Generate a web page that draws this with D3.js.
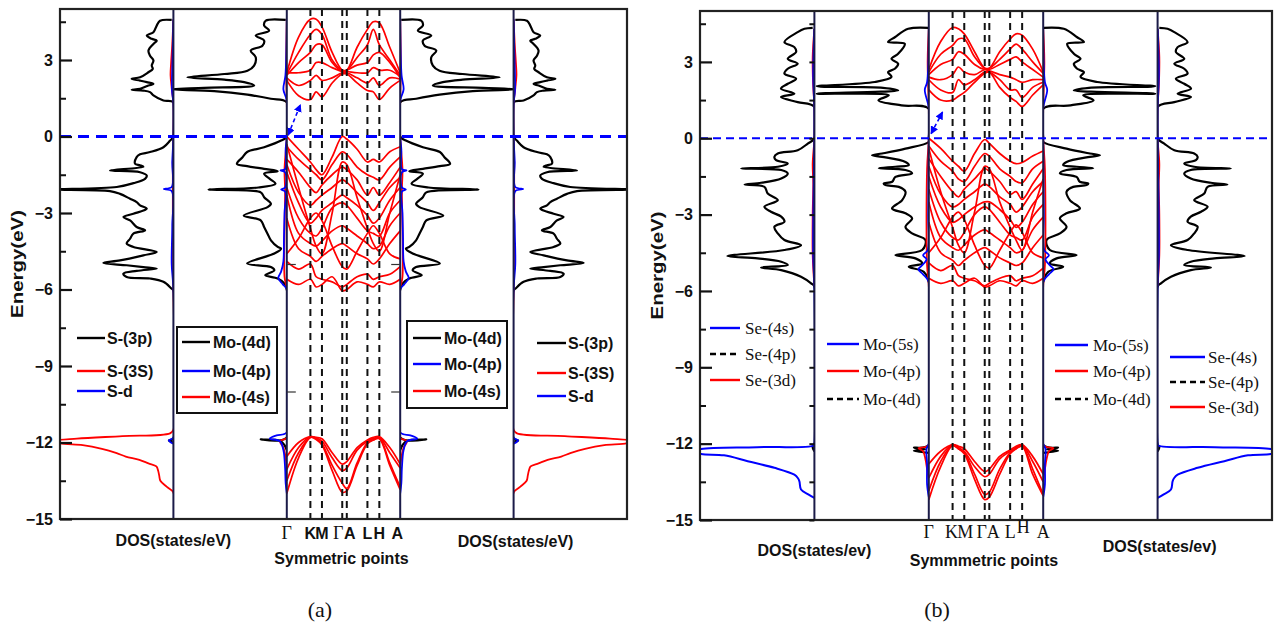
<!DOCTYPE html>
<html lang="en">
<head>
<meta charset="UTF-8">
<script src="https://cdnjs.cloudflare.com/ajax/libs/d3/7.8.5/d3.min.js"></script>
<title>MoS2 / MoSe2 bands and DOS</title>
<style>
  body { margin: 0; background: #fff; }
</style>
</head>
<body>
<svg id="chart" width="1287" height="630"></svg>
<script>
// ---- shared axis values ----
const energyTicks = [3, 0, -3, -6, -9, -12, -15];
const energyMinor = [4.5, 1.5, -1.5, -4.5, -7.5, -10.5, -13.5];
const kSym = [0, 0.208, 0.31, 0.489, 0.529, 0.711, 0.816, 1];
const kLabels = ["Γ", "K", "M", "Γ", "A", "L", "H", "A"];
const kGrid = [0, 0.104, 0.208, 0.259, 0.31, 0.40, 0.489, 0.529, 0.62, 0.711, 0.763, 0.816, 0.908, 1];

// ---- (a) DOS, [energy, states/eV] ----
const s3pA = [[4.57,0.15],[4.54,1.18],[4.35,1.47],[4.09,1.76],[3.96,2.35],[3.83,1.91],[3.76,1.47],[3.63,1.76],[3.37,2.2],[3.17,2.06],[2.98,1.76],[2.78,1.91],[2.65,1.82],[2.52,2.2],[2.32,2.94],[2.26,3.68],[2.19,2.94],[2.13,2.35],[2.06,1.76],[2.0,2.2],[1.87,2.94],[1.83,3.68],[1.8,2.65],[1.74,2.06],[1.61,1.76],[1.41,0.88],[1.34,0],
  [0,0],[-0.16,0.29],[-0.42,0.88],[-0.61,2.06],[-0.7,2.94],[-0.81,3.24],[-1.07,3.38],[-1.13,2.94],[-1.19,2.65],[-1.33,5.59],[-1.4,2.94],[-1.53,2.35],[-1.66,2.5],[-1.83,3.53],[-1.98,5.0],[-2.08,10.5],[-2.14,5.59],[-2.25,4.71],[-2.44,3.82],[-2.57,3.24],[-2.7,2.94],[-2.83,2.35],[-3.03,3.53],[-3.16,4.41],[-3.29,3.82],[-3.55,3.24],[-3.68,2.5],[-3.81,3.53],[-4.01,3.82],[-4.2,4.12],[-4.33,3.53],[-4.53,1.47],[-4.66,2.65],[-4.86,4.71],[-4.96,6.18],[-5.05,4.12],[-5.12,2.65],[-5.18,1.47],[-5.27,3.24],[-5.38,4.41],[-5.51,4.12],[-5.57,2.06],[-5.7,0.88],[-5.97,0.15],[-6.03,0],
  [-11.85,0],[-11.92,0.4],[-12.0,0]];
const s3sA = [[4.6,0],[3.6,0.1],[2.9,0.2],[2.4,0.25],[1.9,0.15],[1.3,0],[0,0],[-1,0.05],[-3,0.05],[-6,0],[-11.5,0],[-11.64,0.3],[-11.75,4.5],[-11.85,8.5],[-11.93,10.2],[-12.02,10.0],[-12.1,8.0],[-12.25,6.3],[-12.42,5.0],[-12.55,4.2],[-12.68,3.0],[-12.82,2.2],[-12.94,1.5],[-13.1,1.35],[-13.3,1.25],[-13.5,1.15],[-13.73,0.6],[-13.92,0.05],[-14.0,0]];
const sdA = [[4.6,0],[3.0,0.08],[1.8,0.12],[1.3,0],[0,0],[-1.0,0.1],[-1.98,0.15],[-2.06,0.85],[-2.14,0.15],[-3.5,0.1],[-5.0,0.15],[-6.0,0],[-11.8,0],[-11.92,0.4],[-12.05,0]];
const mo4dA = [[4.57,0.09],[4.54,1.85],[4.35,2.0],[4.15,1.56],[3.96,2.74],[3.76,2.0],[3.56,2.15],[3.37,3.18],[3.11,2.74],[2.78,2.88],[2.58,3.47],[2.45,5.5],[2.32,8.76],[2.23,5.5],[2.13,3.76],[2.0,2.88],[1.91,7.3],[1.85,10.2],[1.78,6.4],[1.64,3.47],[1.48,1.41],[1.34,0],
  [0,0],[-0.16,0.5],[-0.42,2.0],[-0.61,3.5],[-0.81,3.9],[-1.07,4.4],[-1.16,3.5],[-1.27,2.0],[-1.36,0.8],[-1.46,2.0],[-1.66,1.5],[-1.85,1.0],[-2.0,2.5],[-2.08,6.9],[-2.19,2.3],[-2.38,2.0],[-2.64,1.4],[-2.77,1.7],[-3.1,3.8],[-3.29,2.3],[-3.55,2.0],[-3.81,1.7],[-4.07,1.4],[-4.33,0.8],[-4.4,0.5],[-4.59,1.1],[-4.98,3.5],[-5.12,1.4],[-5.25,1.1],[-5.44,1.9],[-5.57,0.8],[-5.77,0.2],[-6.0,0],
  [-11.8,0],[-11.88,2.3],[-11.93,0.6],[-12.1,0.2],[-12.3,0]];
const mo4pA = [[4.6,0],[2.4,0.12],[1.85,0.3],[1.4,0],[0,0],[-0.5,0.1],[-1.28,0.15],[-1.33,0.55],[-1.4,0.15],[-2.0,0.15],[-2.08,0.5],[-2.16,0.15],[-3.0,0.2],[-4.0,0.25],[-4.9,0.3],[-5.3,0.5],[-5.55,0.75],[-5.8,0.35],[-6.0,0],[-11.6,0],[-11.72,0.9],[-11.85,1.5],[-11.95,0.6],[-12.3,0.3],[-13.0,0.15],[-13.6,0.1],[-14,0]];
const mo4sA = [[4.6,0],[2.5,0.05],[1.4,0],[0,0],[-1.3,0.2],[-2.1,0.15],[-5.5,0.2],[-6,0],[-11.8,0],[-11.95,0.6],[-12.2,0.3],[-12.6,0.1],[-13,0]];

// ---- (a) bands, energy at each kGrid point ----
const condA = [
  [2.5, 3.9, 4.6, 4.6, 4.3, 3.3, 2.6, 2.6, 3.5, 4.2, 4.5, 4.45, 3.5, 2.5],
  [2.45, 3.3, 4.0, 4.2, 4.0, 3.0, 2.6, 2.6, 3.1, 3.6, 4.2, 3.6, 3.0, 2.4],
  [2.4, 2.9, 3.3, 3.6, 3.6, 2.9, 2.55, 2.6, 2.8, 2.9, 3.2, 3.3, 2.9, 2.3],
  [2.5, 2.5, 2.6, 2.9, 2.9, 2.7, 2.55, 2.55, 2.5, 2.5, 2.7, 2.6, 2.6, 2.35],
  [2.3, 2.0, 2.2, 2.4, 2.2, 2.3, 2.5, 2.5, 2.3, 2.1, 2.3, 2.0, 2.3, 2.25],
  [2.2, 1.6, 1.45, 1.75, 1.55, 2.1, 2.45, 2.45, 2.1, 1.8, 1.75, 1.45, 1.9, 2.2]
];
const valA = [
  [0.0, -0.5, -1.0, -1.3, -1.5, -0.8, 0.0, -0.1, -0.5, -1.0, -0.9, -1.0, -0.6, -0.4],
  [-0.4, -0.9, -1.3, -1.5, -1.7, -1.1, -0.6, -0.7, -1.2, -1.5, -1.6, -1.7, -1.2, -0.8],
  [-0.9, -1.4, -2.0, -2.2, -1.9, -1.5, -1.2, -1.3, -1.7, -2.3, -2.0, -2.3, -1.8, -1.2],
  [-0.3, -2.0, -3.6, -4.3, -4.6, -3.0, -1.0, -1.1, -2.4, -3.6, -4.2, -4.5, -3.0, -1.5],
  [-1.1, -2.2, -2.7, -2.5, -2.3, -2.0, -1.7, -1.8, -2.2, -2.6, -2.9, -2.6, -2.0, -1.6],
  [-1.4, -2.6, -3.4, -3.2, -2.9, -2.6, -2.3, -2.4, -2.7, -3.1, -3.4, -3.2, -2.5, -2.0],
  [-2.0, -3.2, -3.8, -3.9, -3.6, -2.8, -2.6, -2.7, -3.2, -3.7, -3.8, -3.9, -3.0, -2.5],
  [-2.3, -3.8, -4.2, -4.3, -4.1, -3.7, -3.5, -3.6, -3.9, -4.2, -4.4, -4.3, -3.5, -3.0],
  [-3.2, -4.4, -4.7, -4.9, -4.7, -4.4, -4.2, -4.3, -4.6, -4.8, -5.0, -4.8, -4.2, -3.7],
  [-4.6, -4.0, -3.2, -3.0, -3.3, -4.3, -5.1, -5.2, -4.5, -3.8, -3.5, -3.8, -4.6, -4.8],
  [-4.9, -5.2, -5.0, -5.5, -5.6, -5.7, -5.9, -5.8, -5.5, -5.4, -5.6, -5.5, -5.4, -5.1],
  [-5.6, -5.8, -5.6, -5.9, -5.8, -5.5, -6.05, -6.0, -5.7, -5.8, -5.9, -5.7, -5.8, -5.6]
];
const lowA = [
  [-12.55, -12.0, -11.77, -11.8, -11.85, -12.4, -12.85, -12.75, -12.2, -11.9, -11.8, -11.77, -12.2, -12.85],
  [-13.05, -12.2, -11.77, -11.82, -11.95, -12.6, -13.1, -13.0, -12.3, -11.95, -11.85, -11.8, -12.4, -13.0],
  [-13.5, -12.4, -11.8, -11.85, -12.05, -12.9, -13.6, -13.8, -12.8, -12.0, -11.9, -11.82, -12.8, -13.75],
  [-14.0, -12.6, -11.8, -11.88, -12.1, -13.1, -13.95, -13.9, -12.9, -12.05, -11.9, -11.85, -12.9, -13.85]
];
const gapArrowA = [[0.011, 0.05], [0.12, 1.25]];

// ---- (b) DOS ----
const se4pB = [[4.34,0.15],[4.3,0.87],[4.17,1.46],[3.78,2.62],[3.58,1.75],[3.39,1.6],[3.12,2.33],[2.93,1.46],[2.73,2.33],[2.54,2.62],[2.34,1.6],[2.14,2.33],[1.95,2.92],[1.75,1.75],[1.62,2.92],[1.42,1.46],[1.23,0],
  [0,0],[-0.21,0.58],[-0.47,1.46],[-0.6,3.2],[-0.73,3.5],[-0.86,3.35],[-0.99,2.33],[-1.12,3.2],[-1.19,6.4],[-1.25,2.9],[-1.39,2.33],[-1.58,2.9],[-1.75,4.66],[-1.82,6.1],[-1.91,4.37],[-2.17,4.08],[-2.43,3.2],[-2.69,4.37],[-2.89,3.8],[-3.08,2.9],[-3.28,2.62],[-3.48,3.5],[-3.74,3.2],[-4.0,2.62],[-4.2,1.17],[-4.39,2.62],[-4.63,7.6],[-4.72,4.96],[-4.85,2.9],[-4.98,2.33],[-5.08,4.66],[-5.18,2.9],[-5.44,1.17],[-5.7,0.29],[-5.83,0],
  [-12.05,0],[-12.15,0.15],[-12.3,0]];
const se4sB = [[4.3,0],[2.5,0.1],[1.2,0],[0,0],[-1.5,0.05],[-4.6,0.1],[-5.8,0],[-12.0,0],[-12.07,0.05],[-12.14,5.0],[-12.21,9.9],[-12.3,10.6],[-12.41,9.9],[-12.46,7.9],[-12.69,5.83],[-12.95,3.5],[-13.22,1.75],[-13.35,1.45],[-13.48,1.31],[-13.8,1.17],[-14.0,0.5],[-14.13,0]];
const se3dB = [[4.3,0],[3.2,0.15],[2.2,0.12],[1.2,0],[0,0],[-1.0,0.15],[-1.8,0.1],[-3.0,0.15],[-4.6,0.15],[-5.8,0]];
const mo4dB = [[4.34,0.06],[4.3,1.8],[3.97,2.97],[3.78,3.56],[3.71,2.1],[3.32,2.68],[3.12,3.26],[2.93,2.68],[2.73,2.97],[2.6,3.56],[2.41,3.26],[2.21,4.72],[2.04,9.8],[1.98,4.0],[1.88,2.68],[1.75,9.8],[1.69,3.5],[1.49,4.4],[1.29,2.39],[1.16,0],
  [0,0],[-0.14,0],[-0.41,2.04],[-0.6,4.08],[-0.67,4.96],[-0.73,4.08],[-0.93,2.04],[-1.06,1.75],[-1.12,2.92],[-1.18,4.37],[-1.25,2.04],[-1.38,1.46],[-1.52,2.92],[-1.71,3.2],[-1.78,3.94],[-1.84,3.79],[-1.91,2.62],[-2.1,2.04],[-2.43,2.33],[-2.76,3.21],[-2.95,2.04],[-3.15,1.46],[-3.48,2.04],[-3.74,1.46],[-4.0,0.29],[-4.39,0.58],[-4.59,2.92],[-4.72,1.17],[-4.92,0.58],[-5.05,1.75],[-5.25,0.44],[-5.64,0],
  [-12.05,0],[-12.16,1.3],[-12.22,0.3],[-12.28,1.3],[-12.36,0]];
const mo5sB = [[4.3,0],[2.2,0.15],[1.9,0.35],[1.2,0],[0,0],[-3,0.05],[-4.4,0.1],[-4.6,0.5],[-4.75,0.2],[-5.0,0.6],[-5.15,0.9],[-5.35,0.5],[-5.65,0],[-12.0,0],[-12.2,0.2],[-12.8,0.15],[-13.6,0.15],[-14.1,0]];
const mo4pB = [[4.3,0],[3,0.1],[1.2,0],[0,0],[-1.2,0.15],[-5,0.15],[-5.8,0],[-12.05,0],[-12.18,0.9],[-12.3,0.5],[-12.6,0.3],[-13.0,0.15],[-13.4,0]];

// ---- (b) bands ----
const condB = [
  [2.7, 3.8, 4.35, 4.3, 4.1, 3.4, 2.75, 2.75, 3.4, 3.9, 4.1, 4.05, 3.5, 2.6],
  [2.6, 3.3, 3.65, 3.9, 3.9, 3.2, 2.75, 2.75, 3.1, 3.5, 3.7, 3.5, 3.0, 2.55],
  [2.5, 2.9, 3.1, 3.4, 3.3, 2.9, 2.7, 2.7, 2.9, 3.1, 3.2, 3.0, 2.7, 2.4],
  [2.4, 2.3, 2.5, 2.8, 2.6, 2.5, 2.7, 2.65, 2.5, 2.4, 2.3, 2.2, 2.3, 2.3],
  [2.3, 1.9, 1.8, 2.3, 2.1, 2.3, 2.6, 2.6, 2.3, 1.9, 1.9, 1.6, 2.0, 2.2],
  [1.9, 1.5, 1.5, 1.65, 1.8, 2.2, 2.55, 2.6, 2.0, 1.6, 1.45, 1.25, 1.7, 2.1]
];
const valB = [
  [0.0, -0.4, -0.9, -1.1, -1.3, -0.6, -0.05, -0.2, -0.6, -0.9, -1.0, -0.95, -0.7, -0.5],
  [-0.3, -0.9, -1.3, -1.6, -1.7, -1.1, -0.6, -0.7, -1.2, -1.5, -1.7, -1.75, -1.2, -0.9],
  [-0.8, -1.5, -2.1, -2.3, -2.0, -1.6, -1.2, -1.3, -1.7, -2.2, -2.1, -2.4, -1.8, -1.2],
  [-0.4, -2.1, -3.5, -4.2, -4.5, -2.9, -1.1, -1.2, -2.5, -3.5, -4.0, -4.4, -2.9, -1.6],
  [-1.1, -2.2, -2.7, -2.6, -2.4, -2.1, -1.8, -1.9, -2.3, -2.6, -2.9, -2.7, -2.1, -1.7],
  [-1.5, -2.7, -3.3, -3.2, -3.0, -2.7, -2.5, -2.5, -2.8, -3.2, -3.5, -3.3, -2.6, -2.1],
  [-2.0, -3.3, -3.9, -4.0, -3.7, -3.0, -2.7, -2.8, -3.3, -3.8, -3.9, -4.0, -3.1, -2.6],
  [-2.5, -3.9, -4.3, -4.4, -4.2, -3.8, -3.6, -3.7, -4.0, -4.3, -4.5, -4.4, -3.6, -3.1],
  [-3.3, -4.5, -4.8, -5.0, -4.8, -4.5, -4.3, -4.4, -4.7, -4.9, -5.0, -4.9, -4.3, -3.8],
  [-4.5, -3.9, -3.1, -2.9, -3.2, -4.2, -5.0, -5.1, -4.4, -3.7, -3.4, -3.7, -4.5, -4.7],
  [-4.9, -5.2, -5.0, -5.4, -5.5, -5.6, -5.8, -5.7, -5.5, -5.4, -5.6, -5.5, -5.4, -5.1],
  [-5.5, -5.7, -5.6, -5.8, -5.7, -5.5, -5.85, -5.8, -5.6, -5.7, -5.8, -5.6, -5.7, -5.5]
];
const lowB = [
  [-12.8, -12.3, -12.04, -12.1, -12.2, -12.7, -13.1, -13.0, -12.5, -12.25, -12.1, -12.04, -12.5, -13.2],
  [-13.35, -12.5, -12.04, -12.15, -12.3, -12.9, -13.3, -13.2, -12.6, -12.3, -12.15, -12.06, -12.7, -13.5],
  [-13.85, -12.7, -12.06, -12.2, -12.35, -13.2, -14.0, -13.9, -13.0, -12.35, -12.2, -12.08, -13.0, -14.0],
  [-14.2, -12.9, -12.08, -12.2, -12.4, -13.4, -14.2, -14.1, -13.2, -12.4, -12.2, -12.1, -13.2, -14.05]
];
const gapArrowB = [[0.02, 0.18], [0.12, 1.03]];

const SANS = '"Liberation Sans", Arial, sans-serif';
const SERIF = '"Liberation Serif", "Times New Roman", serif';

const svg = d3.select("#chart");
const defs = svg.append("defs");
defs.append("marker").attr("id", "ah").attr("viewBox", "0 0 10 10")
  .attr("refX", 9).attr("refY", 5).attr("markerWidth", 5).attr("markerHeight", 5)
  .attr("orient", "auto-start-reverse")
  .append("path").attr("d", "M0,0L10,5L0,10z").attr("fill", "blue");

const dosLine = (xs, y) => d3.line().x(d => xs(d[1])).y(d => y(d[0])).curve(d3.curveCatmullRom.alpha(0.5));

function drawHalf(c) {
  const g = svg.append("g");
  const pw = (c.x1 - c.x0) / 5;
  const edges = d3.range(6).map(i => c.x0 + i * pw);
  const y = d3.scaleLinear().domain([-15, 5]).range([c.yBot, c.yTop]);

  edges.slice(0, 5).forEach((e, i) => {
    defs.append("clipPath").attr("id", c.id + "clip" + i)
      .append("rect").attr("x", e).attr("y", c.yTop).attr("width", pw).attr("height", c.yBot - c.yTop);
  });

  // DOS panels
  c.dos.forEach(set => {
    const left = edges[set.panel], right = edges[set.panel + 1];
    const xs = d3.scaleLinear().domain([0, 10]).range(set.mirror ? [right, left] : [left, right]);
    g.append("path").datum(set.data)
      .attr("clip-path", `url(#${c.id}clip${set.panel})`)
      .attr("d", dosLine(xs, y))
      .attr("fill", "none").attr("stroke", set.color).attr("stroke-width", set.w || 2.2)
      .attr("stroke-linejoin", "round");
  });

  // bands
  const kx = d3.scaleLinear().domain([0, 1]).range([edges[2], edges[3]]);
  const bl = d3.line().x((e, i) => kx(kGrid[i])).y(e => y(e)).curve(d3.curveCatmullRom.alpha(0.5));
  const bandG = g.append("g").attr("clip-path", `url(#${c.id}clip2)`);
  bandG.selectAll("path.band").data(c.bands).join("path").attr("class", "band")
    .attr("d", bl).attr("fill", "none").attr("stroke", "#ff0000").attr("stroke-width", 1.7);

  // high-symmetry dashed lines
  g.selectAll("line.ksym").data(kSym.slice(1, -1)).join("line").attr("class", "ksym")
    .attr("x1", kx).attr("x2", kx).attr("y1", c.yTop).attr("y2", c.yBot)
    .attr("stroke", "#111").attr("stroke-width", 2).attr("stroke-dasharray", "7,5");

  // gap arrow
  g.append("line")
    .attr("x1", kx(c.arrow[0][0])).attr("y1", y(c.arrow[0][1]))
    .attr("x2", kx(c.arrow[1][0])).attr("y2", y(c.arrow[1][1]))
    .attr("stroke", "blue").attr("stroke-width", 1.6).attr("stroke-dasharray", "4,3")
    .attr("marker-start", "url(#ah)").attr("marker-end", "url(#ah)");

  // dividers
  g.selectAll("line.div").data(edges.slice(1, 5)).join("line").attr("class", "div")
    .attr("x1", d => d).attr("x2", d => d).attr("y1", c.yTop).attr("y2", c.yBot)
    .attr("stroke", "#1b1b48").attr("stroke-width", 2);

  // Fermi level
  g.append("line").attr("x1", c.x0).attr("x2", c.x1).attr("y1", y(0)).attr("y2", y(0))
    .attr("stroke", "#0000ff").attr("stroke-width", c.fermiW).attr("stroke-dasharray", c.fermiDash);

  // frame
  g.append("rect").attr("x", c.x0).attr("y", c.yTop).attr("width", c.x1 - c.x0).attr("height", c.yBot - c.yTop)
    .attr("fill", "none").attr("stroke", "#222").attr("stroke-width", 2.2);

  // y axis
  const ax = g.append("g").attr("transform", `translate(${c.x0},0)`)
    .call(d3.axisLeft(y).tickValues(energyTicks).tickSize(-12).tickPadding(7).tickFormat(d3.format("d")));
  ax.select(".domain").remove();
  ax.selectAll("line").attr("stroke", "#111").attr("stroke-width", 2.2);
  ax.selectAll("text").style("font-size", "16px").style("font-weight", "bold").style("font-family", SANS).attr("fill", "#111");
  const mx = g.append("g").attr("transform", `translate(${c.x0},0)`)
    .call(d3.axisLeft(y).tickValues(energyMinor).tickSize(-6).tickFormat(""));
  mx.select(".domain").remove();
  mx.selectAll("line").attr("stroke", "#111").attr("stroke-width", 2);
  if (c.dividerTicks) {
    const dx = g.append("g").attr("transform", `translate(${edges[1]},0)`)
      .call(d3.axisLeft(y).tickValues(energyTicks.concat(energyMinor)).tickSize(5).tickFormat(""));
    dx.select(".domain").remove();
    dx.selectAll("line").attr("stroke", "#111").attr("stroke-width", 2);
  }
  if (c.bandTicks) {
    const bt1 = g.append("g").attr("transform", `translate(${edges[2]},0)`)
      .call(d3.axisLeft(y).tickValues(c.bandTicks).tickSize(-9).tickFormat(""));
    const bt2 = g.append("g").attr("transform", `translate(${edges[3]},0)`)
      .call(d3.axisRight(y).tickValues(c.bandTicks).tickSize(-9).tickFormat(""));
    [bt1, bt2].forEach(a => { a.select(".domain").remove(); a.selectAll("line").attr("stroke", "#333").attr("stroke-width", 1.2); });
  }

  // k labels
  const isSerif = d => d === "Γ" || c.kSerif;
  g.selectAll("text.klab").data(kLabels).join("text").attr("class", "klab")
    .attr("x", (d, i) => kx(kSym[i]) + c.kdx[i]).attr("y", (d, i) => c.kY + c.kdy[i])
    .attr("text-anchor", "middle")
    .style("font-family", d => isSerif(d) ? SERIF : SANS)
    .style("font-weight", d => isSerif(d) ? "normal" : "bold")
    .style("font-size", d => isSerif(d) ? "18px" : "16px")
    .attr("fill", "#111").text(d => d);

  // titles
  const bold = sel => sel.style("font-weight", "bold").style("font-size", "16px").style("font-family", SANS)
    .attr("fill", "#111").attr("text-anchor", "middle");
  g.append("text").attr("transform", `translate(${c.eLabX},${(c.yTop + c.yBot) / 2}) rotate(-90)`)
    .call(bold).style("font-size", "17px").attr("textLength", 108).attr("lengthAdjust", "spacingAndGlyphs")
    .text("Energy(eV)");
  g.append("text").attr("x", (edges[0] + edges[2]) / 2).attr("y", c.dosY1).call(bold).text(c.dosTitle);
  g.append("text").attr("x", (edges[3] + edges[5]) / 2 + 2).attr("y", c.dosY2).call(bold).text(c.dosTitle);
  g.append("text").attr("x", (edges[2] + edges[3]) / 2 - 2).attr("y", c.symY).call(bold).text(c.symTitle);
  g.append("text").attr("x", c.capX).attr("y", 617).attr("text-anchor", "middle")
    .style("font-family", SERIF).style("font-size", "22px").attr("fill", "#111").text(c.caption);

  // legends
  c.legends.forEach(L => {
    const lg = g.append("g");
    if (L.box) lg.append("rect").attr("x", L.box[0]).attr("y", L.box[1]).attr("width", L.box[2]).attr("height", L.box[3])
      .attr("fill", "#fff").attr("stroke", "#111").attr("stroke-width", 2);
    L.items.forEach((it, i) => {
      lg.append("line").attr("x1", L.lx[0]).attr("x2", L.lx[1]).attr("y1", L.ys[i]).attr("y2", L.ys[i])
        .attr("stroke", it.color).attr("stroke-width", 2.4).attr("stroke-dasharray", it.dash ? "6,4" : null);
      lg.append("text").attr("x", L.tx).attr("y", L.ys[i] + 5.5).text(it.label)
        .attr("fill", "#111")
        .style("font-size", c.legSerif ? "17px" : "16px")
        .style("font-weight", c.legSerif ? "normal" : "bold")
        .style("font-family", c.legSerif ? SERIF : SANS);
    });
  });
}

const legSA = [{label: "S-(3p)", color: "#000"}, {label: "S-(3S)", color: "red"}, {label: "S-d", color: "blue"}];
const legMoA = [{label: "Mo-(4d)", color: "#000"}, {label: "Mo-(4p)", color: "blue"}, {label: "Mo-(4s)", color: "red"}];
const legSeB = [{label: "Se-(4s)", color: "blue"}, {label: "Se-(4p)", color: "#000", dash: true}, {label: "Se-(3d)", color: "red"}];
const legMoB = [{label: "Mo-(5s)", color: "blue"}, {label: "Mo-(4p)", color: "red"}, {label: "Mo-(4d)", color: "#000", dash: true}];

drawHalf({
  id: "a", x0: 60, x1: 627, yTop: 9, yBot: 519,
  dos: [
    {panel: 0, mirror: true, data: s3pA, color: "#000"},
    {panel: 0, mirror: true, data: s3sA, color: "red", w: 1.8},
    {panel: 0, mirror: true, data: sdA, color: "blue", w: 1.8},
    {panel: 1, mirror: true, data: mo4dA, color: "#000"},
    {panel: 1, mirror: true, data: mo4sA, color: "red", w: 1.8},
    {panel: 1, mirror: true, data: mo4pA, color: "blue", w: 1.8},
    {panel: 3, mirror: false, data: mo4dA, color: "#000"},
    {panel: 3, mirror: false, data: mo4sA, color: "red", w: 1.8},
    {panel: 3, mirror: false, data: mo4pA, color: "blue", w: 1.8},
    {panel: 4, mirror: false, data: s3pA, color: "#000"},
    {panel: 4, mirror: false, data: s3sA, color: "red", w: 1.8},
    {panel: 4, mirror: false, data: sdA, color: "blue", w: 1.8}
  ],
  bands: condA.concat(valA, lowA), arrow: gapArrowA,
  fermiW: 3, fermiDash: "11,7", dividerTicks: false, bandTicks: [-5, -10],
  kY: 539, kdx: [0, 0, 0, -4, 3, 0, 0, -3], kdy: [0, 0, 0, 0, 0, 0, 0, 0], kSerif: false,
  eLabX: 23, dosTitle: "DOS(states/eV)", dosY1: 546, dosY2: 547, symTitle: "Symmetric points", symY: 564,
  capX: 320, caption: "(a)", legSerif: false,
  legends: [
    {items: legSA, lx: [77, 105], tx: 107, ys: [338, 371, 391]},
    {items: legMoA, box: [177, 327, 100, 86], lx: [182, 210], tx: 213, ys: [342, 371, 397]},
    {items: legMoA, box: [407, 321, 100, 87], lx: [413, 441], tx: 444, ys: [338, 364, 391]},
    {items: legSA, lx: [537, 566], tx: 568, ys: [343, 373, 396]}
  ]
});

drawHalf({
  id: "b", x0: 700, x1: 1272, yTop: 11, yBot: 520,
  dos: [
    {panel: 0, mirror: true, data: se4pB, color: "#000"},
    {panel: 0, mirror: true, data: se3dB, color: "red", w: 1.8},
    {panel: 0, mirror: true, data: se4sB, color: "blue", w: 2},
    {panel: 1, mirror: true, data: mo4dB, color: "#000"},
    {panel: 1, mirror: true, data: mo4pB, color: "red", w: 1.8},
    {panel: 1, mirror: true, data: mo5sB, color: "blue", w: 1.8},
    {panel: 3, mirror: false, data: mo4dB, color: "#000"},
    {panel: 3, mirror: false, data: mo4pB, color: "red", w: 1.8},
    {panel: 3, mirror: false, data: mo5sB, color: "blue", w: 1.8},
    {panel: 4, mirror: false, data: se4pB, color: "#000"},
    {panel: 4, mirror: false, data: se3dB, color: "red", w: 1.8},
    {panel: 4, mirror: false, data: se4sB, color: "blue", w: 2}
  ],
  bands: condB.concat(valB, lowB), arrow: gapArrowB,
  fermiW: 2, fermiDash: "8,5", dividerTicks: true, bandTicks: null,
  kY: 538, kdx: [0, -1, 1, -3, 4, 0, 1, 0], kdy: [0, 0, 0, 0, 0, 0, -5, 0], kSerif: true,
  eLabX: 663, dosTitle: "DOS(states/ev)", dosY1: 556, dosY2: 552, symTitle: "Symmmetric points", symY: 566,
  capX: 937, caption: "(b)", legSerif: true,
  legends: [
    {items: legSeB, lx: [710, 740], tx: 745, ys: [328, 354, 380]},
    {items: legMoB, lx: [827, 859], tx: 863, ys: [344, 371, 399]},
    {items: legMoB, lx: [1055, 1088], tx: 1093, ys: [345, 371, 399]},
    {items: legSeB, lx: [1170, 1205], tx: 1208, ys: [357, 382, 407]}
  ]
});
</script>
</body>
</html>
